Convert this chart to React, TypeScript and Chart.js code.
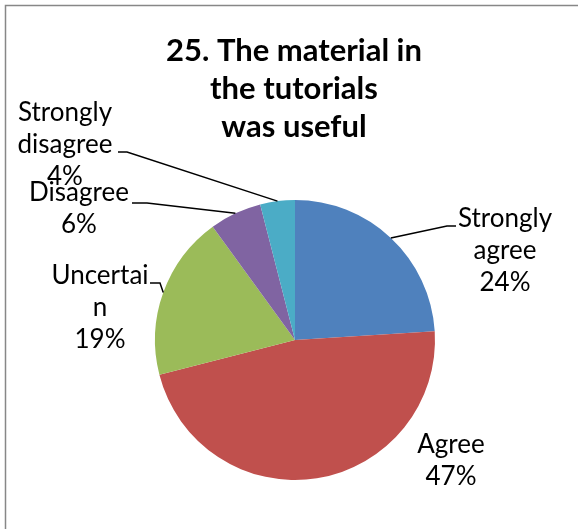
import React, { useEffect, useRef } from "react";
import { Chart, registerables } from "chart.js";

Chart.register(...registerables);

const categories = ["Strongly agree", "Agree", "Uncertain", "Disagree", "Strongly disagree"];
const percentages = [24, 47, 19, 6, 4];
const sliceColors = ["#4F81BD", "#C0504D", "#9BBB59", "#8064A2", "#4BACC6"];
const titleLines = ["25. The material in", "the tutorials", "was useful"];
const labelLines = [
  ["Strongly", "agree", "24%"],
  ["Agree", "47%"],
  ["Uncertai", "n", "19%"],
  ["Disagree", "6%"],
  ["Strongly", "disagree", "4%"],
];

// layout of the data labels (text center x, first baseline y) and leader line elbows
const labelLayout = [
  { x: 505, y: 227, leader: [[456, 226], [447, 226]] },
  { x: 451, y: 453, leader: [] },
  { x: 100, y: 284, leader: [[150, 283], [160, 283]] },
  { x: 79, y: 201, leader: [[132, 203], [147, 203]] },
  { x: 65, y: 121, leader: [[118, 152], [127, 152]] },
];

const FONT = "Lato, 'Carlito', Calibri, 'Open Sans', sans-serif";

const decorPlugin = {
  id: "decor",
  afterDraw(chart: any) {
    const ctx = chart.ctx as CanvasRenderingContext2D;
    ctx.save();
    // chart border (left/top visible)
    ctx.strokeStyle = "#878787";
    ctx.lineWidth = 1.5;
    ctx.strokeRect(5.5, 5.5, chart.width + 20, chart.height + 20);

    // title
    ctx.fillStyle = "#000";
    ctx.textAlign = "center";
    ctx.textBaseline = "alphabetic";
    ctx.font = `bold 31px ${FONT}`;
    titleLines.forEach((t, i) => ctx.fillText(t, 294, 61 + i * 38));

    // labels & leader lines
    const meta = chart.getDatasetMeta(0);
    ctx.font = `26px ${FONT}`;
    meta.data.forEach((arc: any, i: number) => {
      const lay = labelLayout[i];
      if (lay.leader.length) {
        const mid = (arc.startAngle + arc.endAngle) / 2;
        const ex = arc.x + Math.cos(mid) * arc.outerRadius;
        const ey = arc.y + Math.sin(mid) * arc.outerRadius;
        ctx.beginPath();
        ctx.strokeStyle = "#000";
        ctx.lineWidth = 1.5;
        ctx.moveTo(lay.leader[0][0], lay.leader[0][1]);
        for (let k = 1; k < lay.leader.length; k++) ctx.lineTo(lay.leader[k][0], lay.leader[k][1]);
        ctx.lineTo(ex, ey);
        ctx.stroke();
      }
      ctx.fillStyle = "#000";
      labelLines[i].forEach((t, j) => ctx.fillText(t, lay.x, lay.y + j * 32));
    });
    ctx.restore();
  },
};

export default function App() {
  const ref = useRef<HTMLCanvasElement | null>(null);
  useEffect(() => {
    if (!ref.current) return;
    const chart = new Chart(ref.current, {
      type: "pie",
      data: {
        labels: categories,
        datasets: [
          {
            data: percentages,
            backgroundColor: sliceColors,
            borderWidth: 0,
          },
        ],
      },
      options: {
        responsive: false,
        animation: false,
        layout: { padding: { left: 155, right: 143, top: 200, bottom: 49 } },
        plugins: {
          legend: { display: false },
          title: { display: false },
          tooltip: { enabled: false },
        },
      },
      plugins: [decorPlugin],
    });
    return () => chart.destroy();
  }, []);
  return (
    <div style={{ position: "absolute", left: 0, top: 0, width: 578, height: 529, background: "#fff" }}>
      <canvas ref={ref} width={578} height={529} style={{ display: "block" }} />
    </div>
  );
}
